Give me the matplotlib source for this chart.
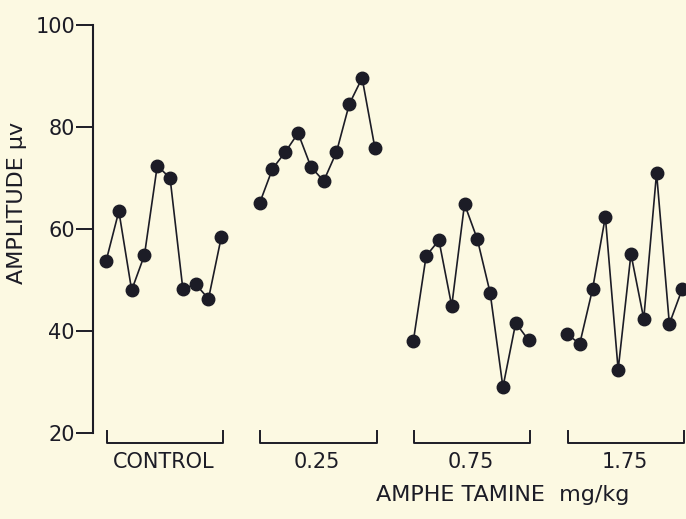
import numpy as np
import matplotlib
matplotlib.use("Agg")
from matplotlib import pyplot as plt

# amplitude (uV) per trial, 10 per dose group
groups = ["CONTROL", "0.25", "0.75", "1.75"]
control = [53.7, 63.5, 48.0, 54.9, 72.4, 70.0, 48.2, 49.2, 46.3, 58.4]
dose_025 = [65.1, 71.8, 75.1, 78.8, 72.2, 69.4, 75.1, 84.5, 89.6, 75.9]
dose_075 = [38.0, 54.7, 57.8, 44.9, 64.9, 58.0, 47.5, 29.0, 41.6, 38.2]
dose_175 = [39.4, 37.5, 48.2, 62.4, 32.4, 55.1, 42.4, 71.0, 41.4, 48.2]
series = [control, dose_025, dose_075, dose_175]
yticks = [20, 40, 60, 80, 100]

bg = "#fcf9e2"
ink = "#1c1c26"

fig = plt.figure(figsize=(6.86, 5.19), dpi=100, facecolor=bg)
# axes in pixel terms: spine at x=93, y range 25..433
ax = fig.add_axes([93 / 686, 1 - 433 / 519, (686 - 93) / 686, (433 - 25) / 519])
ax.set_facecolor(bg)

gap = 12
for g, vals in enumerate(series):
    x = g * gap + np.arange(len(vals))
    ax.plot(x, vals, color=ink, linewidth=1.2, marker="o", markersize=9,
            markerfacecolor=ink, markeredgecolor=ink, clip_on=True)
    # bracket under each group
    x0, x1 = g * gap + 0.05, g * gap + 9.15
    ax.plot([x0, x0, x1, x1], [20.4, 18.1, 18.1, 20.4], color=ink,
            linewidth=1.4, clip_on=False)
    ax.text(g * gap + 4.5, 14.3, groups[g], ha="center", va="center",
            fontsize=15, color=ink)

ax.text(31, 7.9, "AMPHE TAMINE  mg/kg", ha="center", va="center",
        fontsize=16, color=ink)

ax.set_xlim(-1.02, 45.3)
ax.set_ylim(20, 100)
ax.set_yticks(yticks)
ax.tick_params(axis="y", length=12, width=1.4, pad=1, labelsize=15,
               colors=ink, direction="out")
ax.set_xticks([])
for s in ["top", "right", "bottom"]:
    ax.spines[s].set_visible(False)
ax.spines["left"].set_linewidth(1.5)
ax.spines["left"].set_color(ink)

fig.text(17 / 686, 1 - 203 / 519, "AMPLITUDE μv", rotation=90,
         ha="center", va="center", fontsize=16, color=ink)

fig.savefig("out.png", dpi=100, facecolor=bg)
